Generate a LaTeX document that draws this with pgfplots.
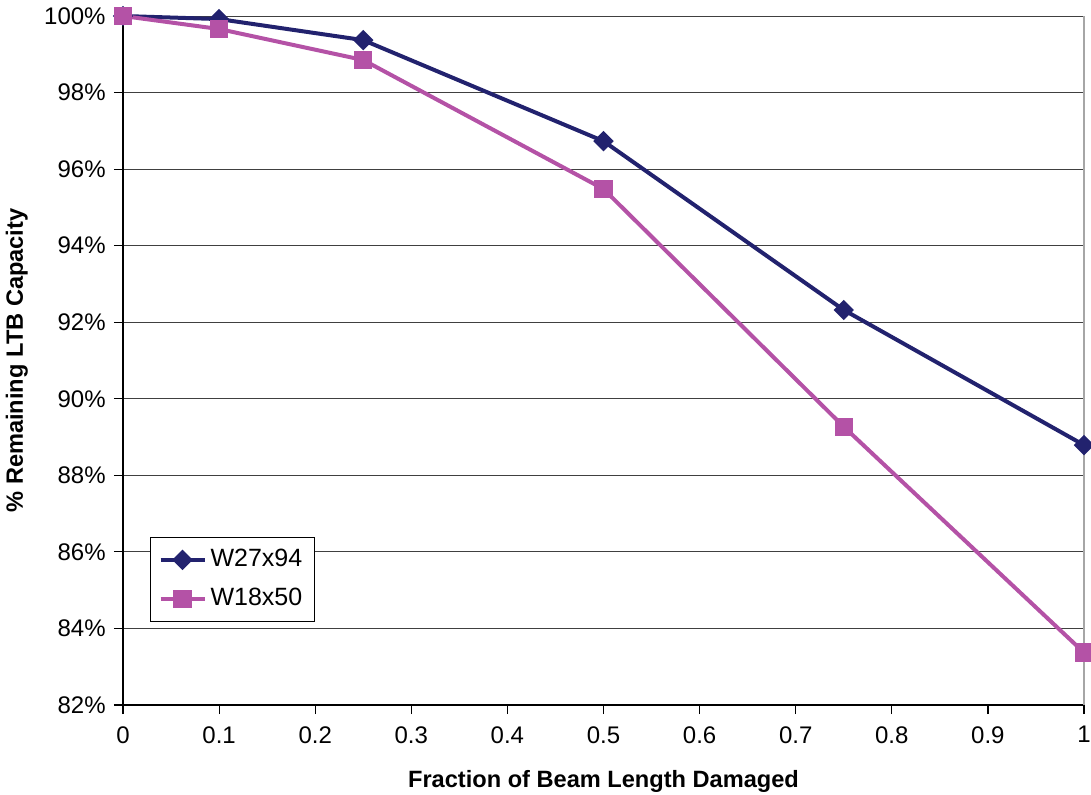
\documentclass[border=0pt]{standalone}
\usepackage{pgfplots}
\pgfplotsset{compat=1.18}
\usepackage{fontspec}
\setmainfont{Liberation Sans}
\definecolor{navyc}{HTML}{22226E}
\definecolor{magc}{HTML}{B452A6}
\begin{document}
\fontsize{12pt}{14pt}\selectfont
\begin{tikzpicture}
\begin{axis}[
  at={(0,0)}, anchor=south west,
  scale only axis, width=480.5pt, height=344.5pt,
  xmin=0, xmax=1, ymin=82, ymax=100,
  axis x line*=bottom, axis y line*=left,
  axis line style={black, line width=0.6pt, -},
  xtick={0,0.1,0.2,0.3,0.4,0.5,0.6,0.7,0.8,0.9,1},
  ytick={82,84,86,88,90,92,94,96,98,100},
  /pgf/number format/assume math mode=true,
  xticklabel style={/pgf/number format/fixed, /pgf/number format/precision=1, font=\fontsize{12pt}{14pt}\selectfont, yshift=-2pt},
  yticklabel={\pgfmathprintnumber[fixed,precision=0]{\tick}\%},
  yticklabel style={font=\fontsize{12pt}{14pt}\selectfont},
  tick align=outside, major tick length=4.5pt,
  xtick style={draw=black, line width=0.6pt},
  ytick style={draw=black, line width=0.6pt},
  ymajorgrids, grid style={black!75, line width=0.5pt},
  xlabel={\bfseries Fraction of Beam Length Damaged},
  ylabel={\bfseries \% Remaining LTB Capacity},
  label style={font=\fontsize{11.8pt}{14pt}\selectfont},
  xlabel style={yshift=-5.5pt},
  ylabel style={yshift=0pt},
  clip=false,
  legend style={at={(0.0281,0.1205)}, anchor=south west, draw=black, line width=0.5pt,
    font=\fontsize{12.5pt}{14pt}\selectfont, row sep=5pt, inner sep=4pt,
    cells={anchor=west}},
  legend cell align=left,
  legend image code/.code={\draw[#1] (0pt,0pt) -- (11pt,0pt) -- (22pt,0pt); \path[#1, only marks] plot coordinates {(11pt,0pt)};},
]
\draw[gray!70, line width=0.8pt] (rel axis cs:1,0) -- (rel axis cs:1,1);
\addplot[navyc, line width=2pt, mark=square*, mark size=2.6pt, mark options={solid, rotate=45}] coordinates {
(0,100) (0.1,99.92) (0.25,99.37) (0.5,96.73) (0.75,92.32) (1,88.79)};
\addlegendentry{W27x94}
\addplot[magc, line width=2pt, mark=square*, mark size=3.6pt, mark options={solid}] coordinates {
(0,100) (0.1,99.66) (0.25,98.85) (0.5,95.48) (0.75,89.27) (1,83.37)};
\addlegendentry{W18x50}
\end{axis}
\pgfresetboundingbox
\path[use as bounding box] (-61.5pt,-44.5pt) rectangle (484pt,352.5pt);
\end{tikzpicture}
\end{document}
